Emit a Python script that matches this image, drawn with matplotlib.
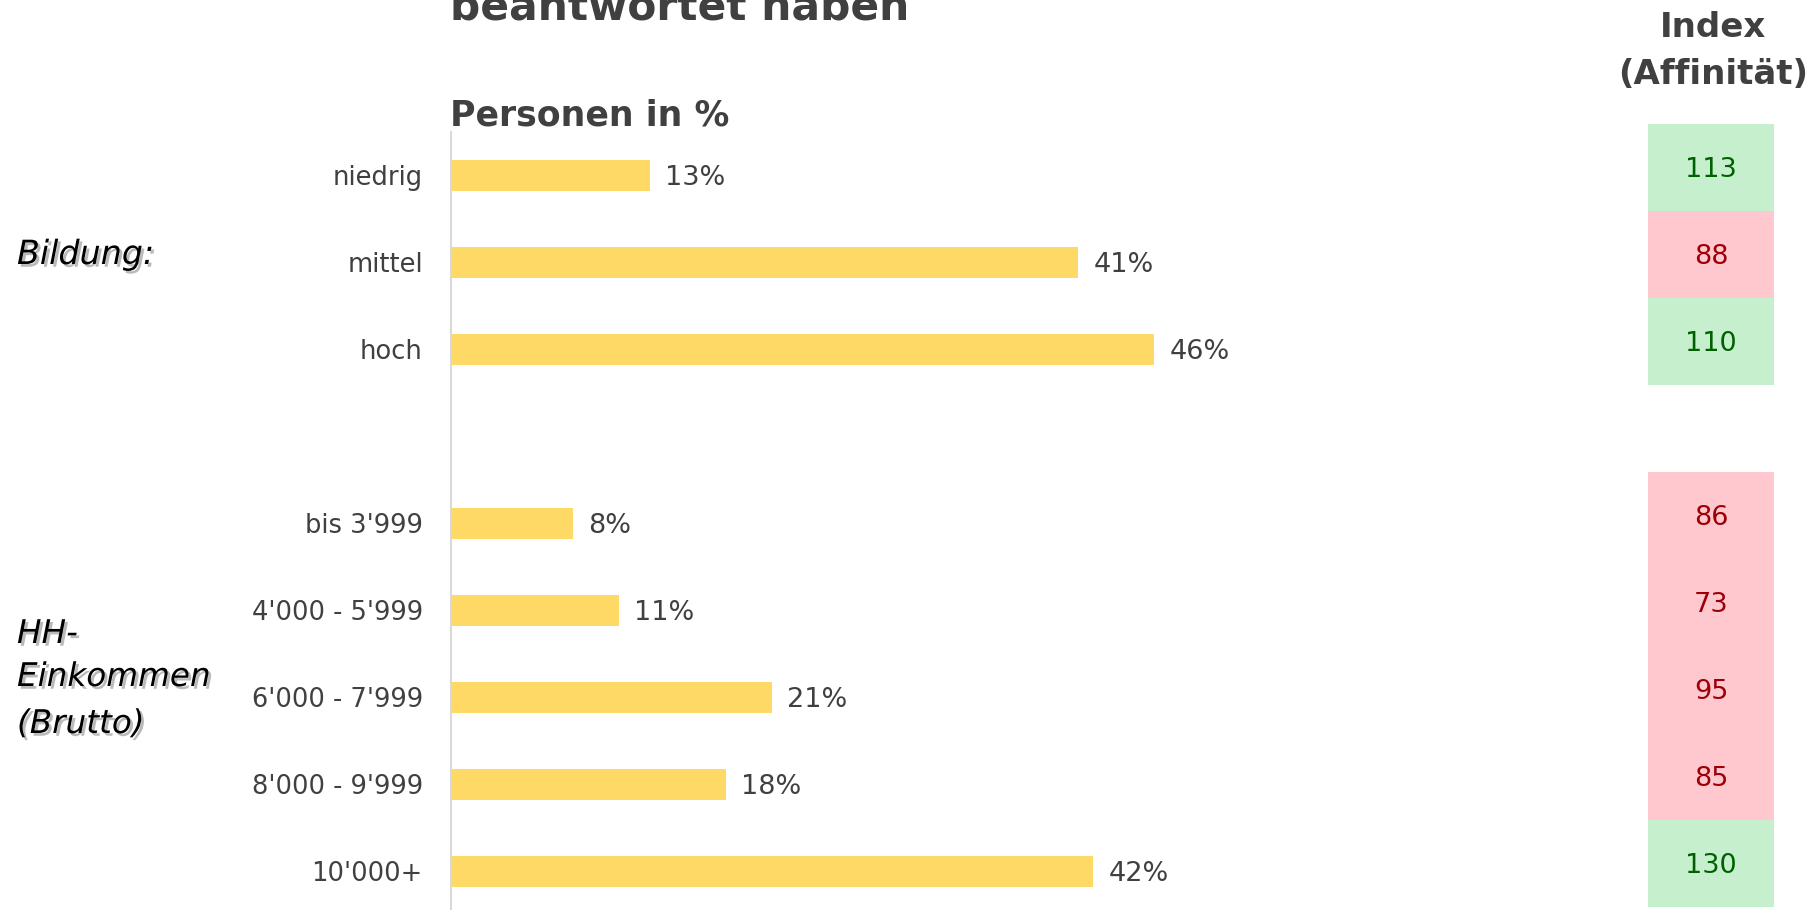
import matplotlib.pyplot as plt
import matplotlib.patheffects as pe

# Daten aus der Grafik
bildung = ['niedrig', 'mittel', 'hoch']
bildung_prozent = [13, 41, 46]
bildung_index = [113, 88, 110]

einkommen = ["bis 3'999", "4'000 - 5'999", "6'000 - 7'999", "8'000 - 9'999", "10'000+"]
einkommen_prozent = [8, 11, 21, 18, 42]
einkommen_index = [86, 73, 95, 85, 130]

# Zeilen mit einer leeren Zeile zwischen den Gruppen
labels = bildung + [''] + einkommen
werte = bildung_prozent + [None] + einkommen_prozent
indizes = bildung_index + [None] + einkommen_index

text_farbe = '#404040'
balken_farbe = '#FFD966'

fig = plt.figure(figsize=(18.12, 9.10), dpi=100)

ax = fig.add_axes([0.2487, -0.0053, 0.5066, 0.8604])
pos = [i for i, w in enumerate(werte) if w is not None]
vals = [w for w in werte if w is not None]
bars = ax.barh(pos, vals, height=0.35, color=balken_farbe)
for b, v in zip(bars, vals):
    ax.text(b.get_width() + 1.0, b.get_y() + b.get_height() / 2 + 0.03, f'{v}%',
            va='center', ha='left', fontsize=19.5, color=text_farbe)

ax.set_xlim(0, 60)
ax.set_ylim(8.5, -0.5)
ax.set_yticks(range(len(labels)))
ax.set_yticklabels(labels, fontsize=18.5, color=text_farbe)
ax.tick_params(axis='y', length=0, pad=20)
ax.set_xticks([])
for s in ['top', 'right', 'bottom']:
    ax.spines[s].set_visible(False)
ax.spines['left'].set_color('#d9d9d9')
ax.spines['left'].set_linewidth(1.5)

# Index-Spalte
ax2 = fig.add_axes([0.9095, -0.0053 + 7.5 / 910, 0.0695, 0.8604])
ax2.set_xlim(0, 1)
ax2.set_ylim(8.5, -0.5)
for i, idx in enumerate(indizes):
    if idx is None:
        continue
    if idx >= 100:
        fill, tc = '#C6EFCE', '#006100'
    else:
        fill, tc = '#FFC7CE', '#9C0006'
    ax2.barh(i, 1, height=1.0, left=0, color=fill)
    ax2.text(0.5, i + 0.02, str(idx), ha='center', va='center', fontsize=19.5, color=tc)
ax2.axis('off')

# Titel und Überschriften
fig.text(0.2483, 1 - 19 / 910, 'beantwortet haben', fontsize=30.5, fontweight='bold',
         color=text_farbe, va='baseline', ha='left')
fig.text(0.2483, 1 - 125 / 910, 'Personen in %', fontsize=25, fontweight='bold',
         color=text_farbe, va='baseline', ha='left')
fig.text(1713 / 1812, 1 - 37 / 910, 'Index', fontsize=24.5, fontweight='bold',
         color=text_farbe, va='baseline', ha='center')
fig.text(1713 / 1812, 1 - 84 / 910, '(Affinität)', fontsize=24.5, fontweight='bold',
         color=text_farbe, va='baseline', ha='center')

# Gruppenbeschriftungen mit Schatten
schatten = [pe.SimplePatchShadow(offset=(2, -2), shadow_rgbFace='#777777', alpha=0.5), pe.Normal()]
fig.text(17 / 1812, 1 - 264 / 910, 'Bildung:', fontsize=24, style='italic', color='black',
         va='baseline', ha='left', path_effects=schatten)
for txt, y in [('HH-', 643), ('Einkommen', 686), ('(Brutto)', 733)]:
    fig.text(17 / 1812, 1 - y / 910, txt, fontsize=23.5, style='italic', color='black',
             va='baseline', ha='left', path_effects=schatten)

fig.savefig('out.png', dpi=100)
